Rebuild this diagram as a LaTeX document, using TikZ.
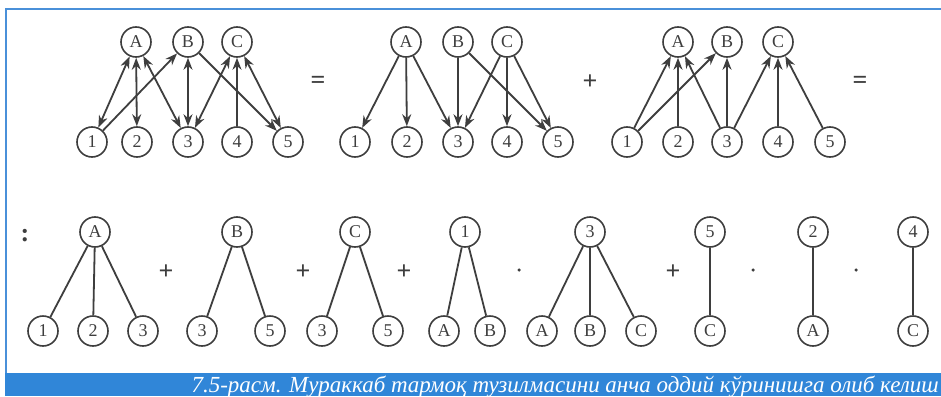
\documentclass[tikz,border=0pt]{standalone}
\usepackage{fontspec}
\setmainfont{Liberation Serif}
\usepackage{tikz}
\usetikzlibrary{arrows.meta,positioning}
\definecolor{inkgray}{RGB}{62,62,62}
\definecolor{frameblue}{RGB}{74,144,217}
\definecolor{captionblue}{RGB}{48,134,216}

\begin{document}
\begin{tikzpicture}[x=1pt,y=-1pt,
    vertex/.style={circle,draw=inkgray,line width=1.6pt,minimum size=30pt,inner sep=0pt,
        text=inkgray,font=\fontsize{18}{18}\selectfont},
    arc/.style={-{Stealth[length=12pt,width=9pt]},line width=1.8pt,inkgray},
    biarc/.style={{Stealth[length=12pt,width=9pt]}-{Stealth[length=12pt,width=9pt]},line width=1.8pt,inkgray},
    branch/.style={line width=1.8pt,inkgray},
    op/.style={text=inkgray,font=\bfseries\fontsize{26}{26}\selectfont},
    dotop/.style={circle,fill=inkgray,minimum size=3.5pt,inner sep=0pt}]
    \useasboundingbox[fill=white] (0,0) rectangle (941,396);

    % Frame and caption bar
    \draw[frameblue,line width=2pt] (941,9) -- (6,9) -- (6,373);
    \fill[captionblue] (5,373) rectangle (941,396);
    \node[anchor=base east,inner sep=0pt,text=white,font=\itshape\fontsize{23}{23}\selectfont] (caption) at (939,392)
        {7.5-расм. Мураккаб тармоқ тузилмасини анча оддий кўринишга олиб келиш};

    % Whole network
    \foreach \n/\x in {A/136,B/188,C/237} \node[vertex] (all\n) at (\x,42) {\n};
    \foreach \n/\x in {1/92,2/137,3/188,4/237,5/288} \node[vertex] (all\n) at (\x,142) {\n};
    \draw[biarc] (allA) -- (all1);
    \draw[biarc] (allA) -- (all2);
    \draw[biarc] (allA) -- (all3);
    \draw[arc] (all1) -- (allB);
    \draw[biarc] (allB) -- (all3);
    \draw[arc] (allB) -- (all5);
    \draw[biarc] (allC) -- (all3);
    \draw[arc] (all4) -- (allC);
    \draw[biarc] (allC) -- (all5);
    \node[op] (eqA) at (318,82) {=};

    % Arcs leaving A, B, C
    \foreach \n/\x in {A/406,B/458,C/507} \node[vertex] (out\n) at (\x,42) {\n};
    \foreach \n/\x in {1/355,2/407,3/458,4/507,5/558} \node[vertex] (out\n) at (\x,142) {\n};
    \draw[arc] (outA) -- (out1);
    \draw[arc] (outA) -- (out2);
    \draw[arc] (outA) -- (out3);
    \draw[arc] (outB) -- (out3);
    \draw[arc] (outB) -- (out5);
    \draw[arc] (outC) -- (out3);
    \draw[arc] (outC) -- (out4);
    \draw[arc] (outC) -- (out5);
    \node[op] (plusA) at (590,82) {+};

    % Arcs entering A, B, C
    \foreach \n/\x in {A/678,B/727,C/778} \node[vertex] (in\n) at (\x,42) {\n};
    \foreach \n/\x in {1/627,2/678,3/727,4/778,5/830} \node[vertex] (in\n) at (\x,142) {\n};
    \draw[arc] (in1) -- (inA);
    \draw[arc] (in2) -- (inA);
    \draw[arc] (in3) -- (inA);
    \draw[arc] (in1) -- (inB);
    \draw[arc] (in3) -- (inB);
    \draw[arc] (in3) -- (inC);
    \draw[arc] (in4) -- (inC);
    \draw[arc] (in5) -- (inC);
    \node[op] (eqB) at (860,82) {=};

    % Simple trees
    \node[op] (colon) at (25,236) {:};
    \node[vertex] (rA) at (95,232) {A};
    \node[vertex] (lA1) at (43,331) {1};
    \node[vertex] (lA2) at (93,331) {2};
    \node[vertex] (lA3) at (143,331) {3};
    \draw[branch] (rA) -- (lA1) (rA) -- (lA2) (rA) -- (lA3);
    \node[op] (plusB) at (166,272) {+};

    \node[vertex] (rB) at (237,232) {B};
    \node[vertex] (lB3) at (202,331) {3};
    \node[vertex] (lB5) at (270,331) {5};
    \draw[branch] (rB) -- (lB3) (rB) -- (lB5);
    \node[op] (plusC) at (303,272) {+};

    \node[vertex] (rC) at (355,232) {C};
    \node[vertex] (lC3) at (322,331) {3};
    \node[vertex] (lC5) at (388,331) {5};
    \draw[branch] (rC) -- (lC3) (rC) -- (lC5);
    \node[op] (plusD) at (404,272) {+};

    \node[vertex] (r1) at (465,232) {1};
    \node[vertex] (l1A) at (444,331) {A};
    \node[vertex] (l1B) at (490,331) {B};
    \draw[branch] (r1) -- (l1A) (r1) -- (l1B);
    \node[dotop] (dotA) at (519,270) {};

    \node[vertex] (r3) at (590,232) {3};
    \node[vertex] (l3A) at (542,331) {A};
    \node[vertex] (l3B) at (590,331) {B};
    \node[vertex] (l3C) at (641,331) {C};
    \draw[branch] (r3) -- (l3A) (r3) -- (l3B) (r3) -- (l3C);
    \node[op] (plusE) at (673,272) {+};

    \node[vertex] (r5) at (710,232) {5};
    \node[vertex] (l5C) at (710,331) {C};
    \draw[branch] (r5) -- (l5C);
    \node[dotop] (dotB) at (753,270) {};

    \node[vertex] (r2) at (813,232) {2};
    \node[vertex] (l2A) at (813,331) {A};
    \draw[branch] (r2) -- (l2A);
    \node[dotop] (dotC) at (856,270) {};

    \node[vertex] (r4) at (913,232) {4};
    \node[vertex] (l4C) at (913,331) {C};
    \draw[branch] (r4) -- (l4C);
\end{tikzpicture}
\end{document}
